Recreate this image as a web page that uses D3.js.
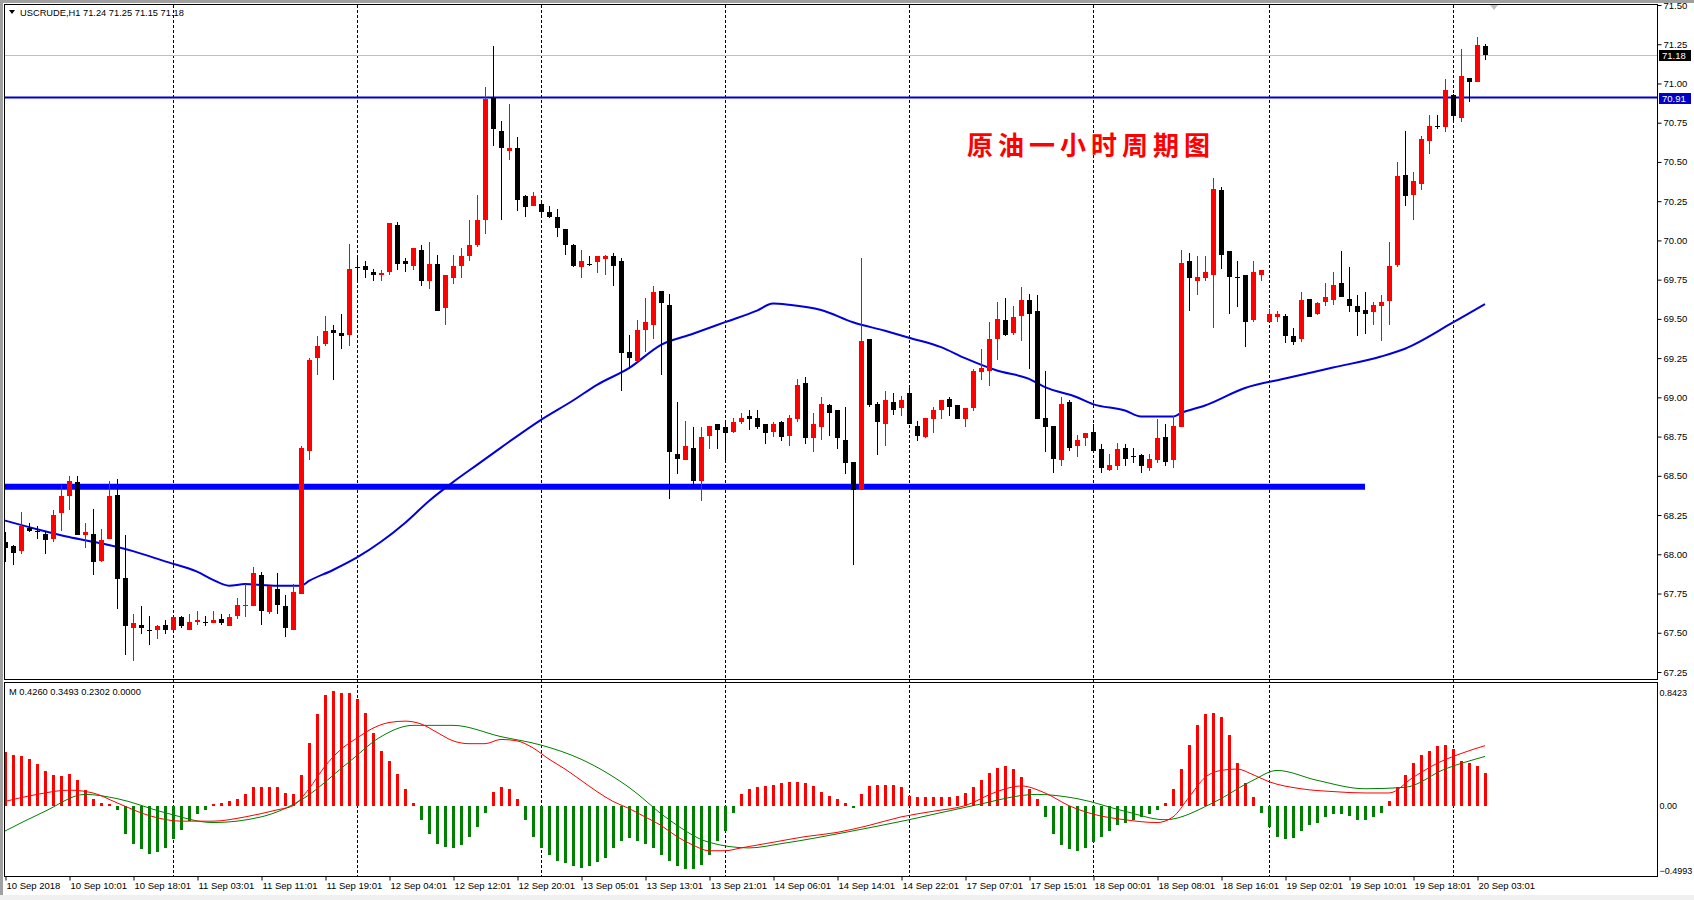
<!DOCTYPE html>
<html>
<head>
<meta charset="utf-8">
<script src="https://cdn.jsdelivr.net/npm/d3@7"></script>
<style>
body { margin: 0; background: #fff; overflow: hidden; }
text { font-family: "Liberation Sans", Arial, sans-serif; }
</style>
</head>
<body>
<svg id="chart" width="1694" height="900"></svg>
<script>
const symbol = 'USCRUDE,H1  71.24 71.25 71.15 71.18';
const macdTitle = 'M 0.4260 0.3493 0.2302 0.0000';
const title = '原油一小时周期图';

// hourly bars, 10 Sep 02:01 .. 20 Sep 03:01
const opens = [
68.08,68.05,68.02,68.17,68.15,68.13,68.10,68.26,68.37,68.46,
68.12,68.13,67.96,68.10,68.38,67.85,67.53,67.55,67.52,67.52,
67.55,67.52,67.60,67.52,67.57,67.57,67.56,67.59,67.54,67.61,
67.67,67.67,67.87,67.63,67.78,67.67,67.52,67.75,68.66,69.25,
69.34,69.43,69.41,69.40,69.83,69.84,69.80,69.78,69.80,70.10,
69.87,69.84,69.94,69.74,69.85,69.57,69.76,69.84,69.90,69.97,
70.13,70.91,70.70,70.57,70.59,70.28,70.22,70.23,70.18,70.15,
70.07,69.97,69.83,69.85,69.86,69.88,69.90,69.87,69.29,69.23,
69.43,69.46,69.68,69.59,68.64,68.60,68.68,68.47,68.755,68.83,
68.81,68.78,68.84,68.88,68.87,68.83,68.78,68.84,68.755,68.86,
69.09,68.74,68.81,68.95,68.92,68.73,68.59,68.41,69.37,68.96,
68.83,68.97,68.93,69.03,68.82,68.75,68.86,68.92,68.99,68.95,
68.86,68.93,69.16,69.17,69.37,69.49,69.41,69.52,69.62,69.55,
68.87,68.82,68.60,68.97,68.69,68.74,68.78,68.67,68.54,68.56,
68.677,68.625,68.635,68.55,68.60,68.75,68.60,68.81,69.87,69.74,
69.76,69.78,70.32,69.93,69.77,69.78,69.49,69.78,69.48,69.515,
69.52,69.39,69.37,69.625,69.53,69.605,69.62,69.727,69.625,69.583,
69.558,69.547,69.58,69.617,69.844,70.417,70.29,70.36,70.636,70.732,
70.725,70.927,70.783,71.037,71.008,71.24];
const highs = [
68.14,68.06,68.27,68.20,68.18,68.15,68.28,68.44,68.50,68.50,
68.20,68.29,68.16,68.47,68.48,68.12,67.62,67.67,67.61,67.55,
67.58,67.60,67.61,67.62,67.64,67.61,67.64,67.62,67.62,67.72,
67.81,67.92,67.89,67.80,67.88,67.74,67.81,68.69,69.25,69.39,
69.52,69.46,69.53,69.98,69.90,69.87,69.82,69.81,70.11,70.12,
69.89,69.95,69.97,69.99,69.91,69.78,69.91,69.95,70.13,70.29,
70.98,71.24,70.76,70.87,70.66,70.29,70.31,70.24,70.22,70.20,
70.07,69.98,69.94,69.90,69.90,69.91,69.92,69.89,69.40,69.49,
69.63,69.71,69.68,69.66,68.97,68.85,68.81,68.81,68.82,68.83,
68.84,68.87,68.90,68.92,68.92,68.83,68.84,68.85,68.89,69.12,
69.13,68.90,69.00,68.96,68.92,68.94,68.59,69.89,69.37,68.97,
69.04,69.03,69.01,69.06,68.85,68.87,68.94,68.98,69.00,68.95,
68.93,69.18,69.31,69.48,69.61,69.63,69.58,69.70,69.66,69.65,
69.17,68.82,69.00,68.98,68.76,68.77,68.83,68.70,68.64,68.71,
68.705,68.68,68.64,68.64,68.86,68.83,68.88,69.94,69.92,69.90,
69.90,70.40,70.34,69.93,69.87,69.78,69.87,69.81,69.56,69.55,
69.53,69.44,69.674,69.625,69.605,69.73,69.80,69.93,69.833,69.653,
69.67,69.61,69.653,69.993,70.498,70.70,70.434,70.666,70.80,70.80,
71.029,70.933,71.22,71.037,71.298,71.25];
const lows = [
67.95,67.93,68.00,68.14,68.10,68.00,68.08,68.15,68.28,68.12,
68.04,67.87,67.95,68.10,67.65,67.36,67.32,67.49,67.42,67.46,
67.49,67.52,67.53,67.52,67.55,67.54,67.56,67.55,67.54,67.59,
67.60,67.67,67.55,67.62,67.62,67.47,67.52,67.75,68.60,69.14,
69.33,69.11,69.31,69.33,69.73,69.76,69.74,69.74,69.78,69.81,
69.80,69.81,69.71,69.69,69.55,69.46,69.72,69.76,69.87,69.96,
70.04,70.60,70.13,70.51,70.19,70.15,70.22,70.15,70.14,70.02,
69.91,69.83,69.76,69.84,69.79,69.78,69.71,69.04,69.18,69.23,
69.29,69.37,69.14,68.35,68.51,68.60,68.42,68.34,68.67,68.67,
68.58,68.77,68.83,68.79,68.80,68.70,68.75,68.72,68.69,68.84,
68.70,68.65,68.73,68.755,68.67,68.51,67.93,68.41,68.94,68.63,
68.69,68.89,68.88,68.83,68.725,68.74,68.77,68.86,68.88,68.86,
68.81,68.91,69.11,69.07,69.24,69.39,69.40,69.36,69.18,68.86,
68.65,68.52,68.56,68.66,68.62,68.69,68.655,68.52,68.53,68.54,
68.56,68.58,68.52,68.53,68.58,68.565,68.55,68.81,69.55,69.65,
69.74,69.44,69.82,69.53,69.575,69.32,69.48,69.74,69.48,69.48,
69.345,69.335,69.355,69.51,69.525,69.58,69.59,69.64,69.547,69.394,
69.405,69.462,69.356,69.462,69.83,70.222,70.131,70.32,70.551,70.71,
70.693,70.763,70.757,70.885,71.008,71.15];
const closes = [
68.04,68.01,68.18,68.15,68.15,68.09,68.25,68.37,68.47,68.12,
68.14,67.95,68.09,68.37,67.84,67.54,67.56,67.53,67.51,67.54,
67.52,67.60,67.54,67.57,67.58,67.57,67.58,67.56,67.60,67.68,
67.68,67.88,67.64,67.80,67.68,67.53,67.76,68.68,69.24,69.33,
69.42,69.41,69.39,69.82,69.83,69.81,69.78,69.79,70.11,69.85,
69.85,69.95,69.74,69.85,69.55,69.78,69.84,69.90,69.97,70.13,
70.90,70.71,70.59,70.59,70.26,70.21,70.28,70.18,70.15,70.08,
69.97,69.84,69.87,69.85,69.90,69.90,69.84,69.28,69.25,69.43,
69.48,69.67,69.60,68.65,68.61,68.69,68.47,68.75,68.82,68.79,
68.77,68.84,68.87,68.86,68.81,68.77,68.83,68.75,68.87,69.08,
68.74,68.83,68.96,68.90,68.74,68.58,68.41,69.36,68.95,68.84,
68.98,68.92,68.98,68.83,68.755,68.87,68.92,68.98,68.94,68.86,
68.93,69.17,69.19,69.37,69.50,69.40,69.51,69.62,69.53,68.86,
68.81,68.61,68.96,68.68,68.73,68.77,68.655,68.55,68.57,68.67,
68.61,68.625,68.56,68.61,68.74,68.59,68.82,69.855,69.76,69.77,
69.80,70.33,69.91,69.77,69.77,69.48,69.80,69.81,69.53,69.53,
69.39,69.355,69.62,69.515,69.60,69.64,69.717,69.64,69.585,69.547,
69.532,69.59,69.607,69.838,70.411,70.286,70.379,70.647,70.73,70.732,
70.959,70.795,71.05,71.012,71.245,71.18];

// moving average, read at sample bars
const maIdx = [0,4,8,12,16,20,24,26,28,30,34,37,38,41,44,47,50,53,56,59,62,67,71,74,78,82,86,90,94,96,98,102,106,110,113,117,120,124,128,130,134,136,140,142,146,147,150,155,160,166,172,175,181,185];
const maVal = [68.215,68.16,68.11,68.07,68.02,67.955,67.89,67.837,67.80,67.81,67.80,67.80,67.83,67.90,67.98,68.08,68.20,68.34,68.46,68.57,68.68,68.857,68.98,69.08,69.186,69.335,69.405,69.479,69.553,69.598,69.59,69.557,69.479,69.424,69.38,69.32,69.25,69.171,69.118,69.065,69.001,68.957,68.916,68.878,68.878,68.90,68.948,69.06,69.12,69.19,69.26,69.31,69.477,69.594];

const supportLevel = 68.43;
const supportEnd = 170;
const resistLevel = 70.91;
const bidLevel = 71.18;

// oscillator panel
const hist = [
0.384,0.36,0.353,0.331,0.295,0.247,0.216,0.209,0.223,0.18,
0.108,0.05,0.02,0.01,-0.03,-0.2,-0.27,-0.31,-0.34,-0.33,
-0.30,-0.24,-0.17,-0.11,-0.06,-0.03,0.01,0.02,0.03,0.05,
0.084,0.132,0.132,0.132,0.132,0.09,0.08,0.216,0.446,0.648,
0.785,0.811,0.80,0.80,0.756,0.655,0.516,0.389,0.317,0.223,
0.115,0.02,-0.1,-0.2,-0.27,-0.29,-0.3,-0.28,-0.22,-0.15,
-0.05,0.1,0.13,0.12,0.05,-0.1,-0.22,-0.3,-0.35,-0.39,
-0.41,-0.43,-0.44,-0.43,-0.40,-0.37,-0.3,-0.25,-0.23,-0.25,
-0.27,-0.30,-0.35,-0.39,-0.43,-0.45,-0.45,-0.42,-0.35,-0.25,
-0.18,-0.05,0.08,0.12,0.13,0.14,0.15,0.16,0.17,0.17,
0.16,0.14,0.1,0.07,0.05,0.02,-0.02,0.08,0.14,0.15,
0.15,0.15,0.13,0.07,0.06,0.06,0.06,0.06,0.06,0.07,
0.09,0.13,0.18,0.23,0.27,0.28,0.26,0.2,0.12,0.05,
-0.08,-0.2,-0.28,-0.31,-0.32,-0.3,-0.26,-0.22,-0.18,-0.14,
-0.12,-0.1,-0.08,-0.06,-0.03,0.02,0.12,0.26,0.43,0.57,
0.65,0.66,0.63,0.5,0.3,0.16,0.06,-0.05,-0.15,-0.22,
-0.24,-0.23,-0.18,-0.14,-0.12,-0.08,-0.06,-0.06,-0.07,-0.1,
-0.1,-0.08,-0.05,0.03,0.13,0.22,0.3,0.36,0.39,0.42,
0.43,0.40,0.32,0.3,0.28,0.23];
const macdIdx = [0,4,8,11,14,18,22,26,30,34,36,38,40,42,44,46,48,50,52,54,56,58,60,62,64,66,68,70,72,74,76,78,80,82,84,86,88,90,92,96,100,104,108,112,116,120,124,127,130,133,136,140,144,146,148,150,152,154,156,158,162,166,170,173,176,179,182,185];
const macdVal = [0.03,0.08,0.11,0.09,0.02,-0.07,-0.11,-0.11,-0.08,-0.03,0.0,0.12,0.28,0.40,0.48,0.55,0.59,0.60,0.58,0.52,0.46,0.44,0.44,0.47,0.46,0.41,0.33,0.26,0.18,0.10,0.03,-0.02,-0.08,-0.14,-0.22,-0.28,-0.32,-0.32,-0.30,-0.26,-0.22,-0.19,-0.14,-0.08,-0.04,0.0,0.10,0.14,0.09,0.0,-0.06,-0.10,-0.12,-0.08,0.06,0.20,0.25,0.26,0.22,0.17,0.12,0.10,0.09,0.09,0.2,0.3,0.37,0.426];
const sigIdx = [0,5,10,14,20,26,32,37,43,47,51,56,62,67,72,78,83,88,93,97,105,113,121,129,134,140,145,151,156,159,164,170,175,180,185];
const sigVal = [-0.18,-0.04,0.08,0.05,-0.05,-0.12,-0.08,0.04,0.31,0.49,0.57,0.57,0.49,0.43,0.33,0.13,-0.10,-0.26,-0.30,-0.27,-0.19,-0.10,0.0,0.08,0.05,-0.04,-0.10,0.02,0.18,0.25,0.18,0.12,0.13,0.26,0.3493];
const macdMax = 0.8423;
const macdMin = -0.4993;

const priceTicks = [67.25,67.5,67.75,68,68.25,68.5,68.75,69,69.25,69.5,69.75,70,70.25,70.5,70.75,71,71.25,71.5];
const timeIdx = [0,8,16,24,32,40,48,56,64,72,80,88,96,104,112,120,128,136,144,152,160,168,176,184];
const timeLabels = ['10 Sep 2018','10 Sep 10:01','10 Sep 18:01','11 Sep 03:01','11 Sep 11:01','11 Sep 19:01','12 Sep 04:01','12 Sep 12:01','12 Sep 20:01','13 Sep 05:01','13 Sep 13:01','13 Sep 21:01','14 Sep 06:01','14 Sep 14:01','14 Sep 22:01','17 Sep 07:01','17 Sep 15:01','18 Sep 00:01','18 Sep 08:01','18 Sep 16:01','19 Sep 02:01','19 Sep 10:01','19 Sep 18:01','20 Sep 03:01'];
const gridIdx = [21,44,67,90,113,136,158,181];

const left = 5, right = 1657;
const mainTop = 5, mainBottom = 679;
const macdTop = 683, macdBottom = 876;

const svg = d3.select('#chart');

const x = d3.scaleLinear().domain([0, 185]).range([5, 1485]);
const y = d3.scaleLinear().domain([67.25, 71.5]).range([672, 5]);
const ym = d3.scaleLinear().domain([macdMin, macdMax]).range([876, 687]);

// window frame
svg.append('rect').attr('x', 0).attr('y', 0).attr('width', 1694).attr('height', 900).attr('fill', '#fff');
svg.append('rect').attr('x', 0).attr('y', 0).attr('width', 1694).attr('height', 3).attr('fill', '#a0a0a0');
svg.append('rect').attr('x', 0).attr('y', 0).attr('width', 3).attr('height', 900).attr('fill', '#a0a0a0');
svg.append('rect').attr('x', 0).attr('y', 895).attr('width', 1694).attr('height', 5).attr('fill', '#f0f0f0');

svg.append('defs').append('clipPath').attr('id', 'mainClip')
  .append('rect').attr('x', left).attr('y', mainTop).attr('width', right - left).attr('height', mainBottom - mainTop);

// dashed grid
svg.append('g').selectAll('line').data(gridIdx).enter().append('line')
  .attr('x1', d => x(d) + 0.5).attr('x2', d => x(d) + 0.5)
  .attr('y1', mainTop).attr('y2', macdBottom)
  .attr('stroke', '#000').attr('stroke-dasharray', '3,2').attr('stroke-width', 1);

const main = svg.append('g').attr('clip-path', 'url(#mainClip)');

// bid line
main.append('line')
  .attr('x1', left).attr('x2', right)
  .attr('y1', Math.round(y(bidLevel)) + 0.5).attr('y2', Math.round(y(bidLevel)) + 0.5)
  .attr('stroke', '#c0c0c0');

// level lines
main.append('line')
  .attr('x1', left).attr('x2', right)
  .attr('y1', y(resistLevel)).attr('y2', y(resistLevel))
  .attr('stroke', '#0000c8').attr('stroke-width', 2);
main.append('line')
  .attr('x1', left).attr('x2', x(supportEnd))
  .attr('y1', y(supportLevel)).attr('y2', y(supportLevel))
  .attr('stroke', '#0000ff').attr('stroke-width', 6);

// moving average
const maLine = d3.line().x(d => x(d[0])).y(d => y(d[1])).curve(d3.curveMonotoneX);
main.append('path').datum(maIdx.map((d, i) => [d, maVal[i]]))
  .attr('d', maLine).attr('fill', 'none').attr('stroke', '#0000dd').attr('stroke-width', 2);

// candles
const bars = d3.range(opens.length);
const candle = main.append('g').attr('shape-rendering', 'crispEdges');
const col = i => closes[i] > opens[i] ? '#ff0000' : '#000000';
candle.selectAll('line').data(bars).enter().append('line')
  .attr('x1', i => x(i) + 0.5).attr('x2', i => x(i) + 0.5)
  .attr('y1', i => y(highs[i])).attr('y2', i => y(lows[i]))
  .attr('stroke', col);
candle.selectAll('rect').data(bars).enter().append('rect')
  .attr('x', i => x(i) - 2)
  .attr('width', 5)
  .attr('y', i => y(Math.max(opens[i], closes[i])))
  .attr('height', i => Math.max(1, Math.abs(y(opens[i]) - y(closes[i]))))
  .attr('fill', col);

// title
svg.append('text')
  .attr('x', 967).attr('y', 155)
  .attr('fill', '#ff0000')
  .style('font-family', '"Noto Sans CJK SC", sans-serif')
  .style('font-weight', 'bold')
  .style('font-size', '26px')
  .style('letter-spacing', '5px')
  .text(title);

// header
svg.append('path').attr('d', 'M9,10 L15,10 L12,14 Z').attr('fill', '#000');
svg.append('text').attr('x', 20).attr('y', 16).style('font-size', '9.3px').text(symbol);
svg.append('path').attr('d', 'M1490,5 L1498,5 L1494,10 Z').attr('fill', '#c0c0c0');

// oscillator
const osc = svg.append('g').attr('shape-rendering', 'crispEdges');
osc.selectAll('rect').data(bars).enter().append('rect')
  .attr('x', i => x(i) - 1)
  .attr('width', 3)
  .attr('y', i => Math.min(ym(0), ym(hist[i])))
  .attr('height', i => Math.abs(ym(hist[i]) - ym(0)))
  .attr('fill', i => hist[i] >= 0 ? '#ff0000' : '#008000');

const oscLine = d3.line().x(d => x(d[0])).y(d => ym(d[1])).curve(d3.curveMonotoneX);
svg.append('path').datum(sigIdx.map((d, i) => [d, sigVal[i]]))
  .attr('d', oscLine).attr('fill', 'none').attr('stroke', '#008000').attr('stroke-width', 1);
svg.append('path').datum(macdIdx.map((d, i) => [d, macdVal[i]]))
  .attr('d', oscLine).attr('fill', 'none').attr('stroke', '#ff0000').attr('stroke-width', 1);

svg.append('text').attr('x', 9).attr('y', 695).style('font-size', '9.3px').text(macdTitle);

// panel frames
svg.append('rect').attr('x', left - 0.5).attr('y', mainTop - 0.5)
  .attr('width', right - left + 1).attr('height', mainBottom - mainTop + 1)
  .attr('fill', 'none').attr('stroke', '#000');
svg.append('rect').attr('x', left - 0.5).attr('y', macdTop - 0.5)
  .attr('width', right - left + 1).attr('height', macdBottom - macdTop + 1)
  .attr('fill', 'none').attr('stroke', '#000');

// price axis
const yAxis = svg.append('g')
  .attr('transform', 'translate(' + (right + 0.5) + ',0)')
  .call(d3.axisRight(y).tickValues(priceTicks).tickSize(4).tickPadding(2).tickFormat(d3.format('.2f')));
yAxis.select('.domain').remove();
yAxis.selectAll('text').style('font-size', '9.5px').attr('fill', '#000');

const mAxis = svg.append('g')
  .attr('transform', 'translate(' + (right + 0.5) + ',0)')
  .call(d3.axisRight(ym).tickValues([macdMax, 0, macdMin]).tickSize(0).tickPadding(2)
    .tickFormat(d => d === 0 ? '0.00' : d3.format('.4f')(d)));
mAxis.select('.domain').remove();
mAxis.selectAll('text').style('font-size', '9px').attr('fill', '#000')
  .attr('dy', d => d === macdMax ? '0.9em' : d === macdMin ? '-0.3em' : '0.32em');

// price tags
const tags = [[bidLevel, '#000000'], [resistLevel, '#0000c8']];
tags.forEach(t => {
  const ty = Math.round(y(t[0]));
  svg.append('rect').attr('x', 1659).attr('y', ty - 5).attr('width', 32).attr('height', 11).attr('fill', t[1]);
  svg.append('text').attr('x', 1662).attr('y', ty + 4).attr('fill', '#fff').style('font-size', '9.5px').text(t[0].toFixed(2));
});

// time axis
const xAxis = svg.append('g')
  .attr('transform', 'translate(0,' + (macdBottom + 0.5) + ')')
  .call(d3.axisBottom(x).tickValues(timeIdx).tickSize(4).tickPadding(2).tickFormat((d, i) => timeLabels[i]));
xAxis.select('.domain').remove();
xAxis.selectAll('line').attr('transform', 'translate(0.5,0)');
xAxis.selectAll('text').attr('text-anchor', 'start').attr('dx', 1).style('font-size', '9.5px').attr('fill', '#000');
</script>
</body>
</html>
